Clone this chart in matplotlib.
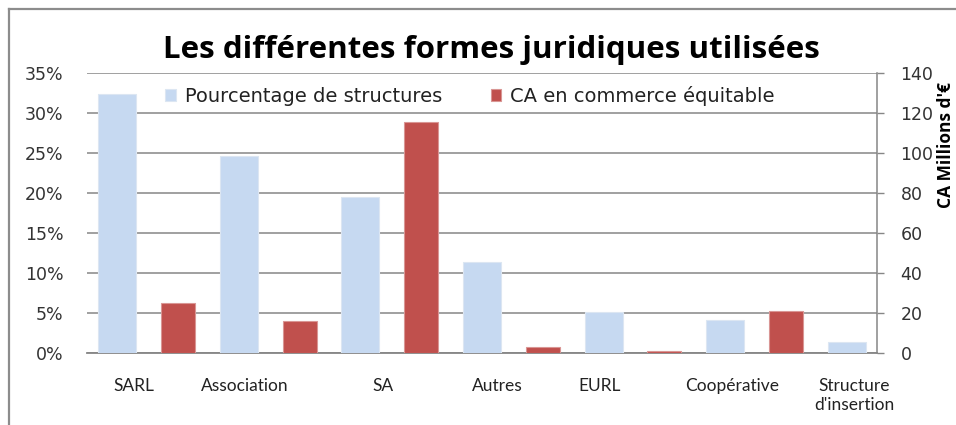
import matplotlib
matplotlib.use("Agg")
import matplotlib.pyplot as plt
from matplotlib.lines import Line2D
from matplotlib.ticker import PercentFormatter

# donnees
categories = ["SARL", "Association", "SA", "Autres", "EURL", "Coopérative", "Structure\nd'insertion"]
pct_structures = [0.324, 0.247, 0.195, 0.114, 0.0516, 0.0416, 0.0137]
ca_millions = [25.2, 16.2, 115.5, 3.3, 1.1, 21.1]  # pas de CA pour la derniere
label_shift = [0.27, 0.10, 0.37, 0.25, -0.06, 0.11, 0.13]

bleu = "#C6D9F1"
rouge = "#C0504D"
gris = "#868686"

fig = plt.figure(figsize=(9.56, 4.25), dpi=100)
ax = fig.add_axes([87/956, 1-353.3/425, 790/956, 280/425])
ax2 = ax.twinx()

# 13 emplacements : bleu sur les pairs, rouge sur les impairs
xb = [2*i for i in range(len(pct_structures))]
xr = [2*i+1 for i in range(len(ca_millions))]
b1 = ax.bar(xb, pct_structures, width=0.625, color=bleu, edgecolor="#DCE6F2", lw=0.8,
            label="Pourcentage de structures", zorder=3)
b2 = ax2.bar(xr, ca_millions, width=0.56, color=rouge, edgecolor="#D99694", lw=0.8,
             label="CA en commerce équitable", zorder=3)

ax.set_xlim(-0.5, 12.5)
ax.set_ylim(0, 0.35)
ax2.set_ylim(0, 140)
ax.set_yticks([i*0.05 for i in range(8)])
ax2.set_yticks(range(0, 141, 20))
ax.yaxis.set_major_formatter(PercentFormatter(1.0, decimals=0))
ax.grid(axis="y", color=gris, lw=1.1, zorder=0)
ax.set_axisbelow(True)

ax.set_xticks([2*i + s for i, s in enumerate(label_shift)])
ax.set_xticklabels(categories, fontfamily="Lato", fontsize=12.5, color="#222222")
ax.tick_params(axis="x", length=0, pad=18)
ax.tick_params(axis="y", length=0, pad=17, labelsize=12.5, colors="#333333")
ax2.tick_params(axis="y", length=5, pad=12, labelsize=12.5, colors="#333333",
                color=gris, width=1)

for a in (ax, ax2):
    for sp in a.spines.values():
        sp.set_visible(False)
ax2.spines["right"].set_visible(True)
ax2.spines["right"].set_color(gris)
ax2.spines["right"].set_linewidth(1.1)
ax.spines["bottom"].set_visible(True)
ax.spines["bottom"].set_color(gris)
ax.spines["bottom"].set_linewidth(1.3)

fig.text(491/956, 1-58/425, "Les différentes formes juridiques utilisées",
         ha="center", va="baseline", fontsize=22.5, fontweight="bold",
         fontfamily="Open Sans", color="black")

fig.text(955/956, 1-145/425, "CA Millions d'€", rotation=90, ha="right", va="center",
         fontsize=12.5, fontweight="bold", fontfamily="Open Sans", color="black")

fig.legend(handles=[b1, b2], loc="center left", bbox_to_anchor=(0.173, 0.774),
           ncol=2, frameon=False, fontsize=14, borderpad=0, borderaxespad=0,
           handlelength=0.55, handleheight=0.55, handletextpad=0.45, columnspacing=2.5,
           labelcolor="#222222")

# cadre du graphique
fig.add_artist(Line2D([9/956, 9/956], [0, 1-9/425], transform=fig.transFigure,
                      color="#8C8C8C", lw=1.6))
fig.add_artist(Line2D([9/956, 1], [1-9/425, 1-9/425], transform=fig.transFigure,
                      color="#8C8C8C", lw=1.6))

fig.savefig("out.png", dpi=100)
